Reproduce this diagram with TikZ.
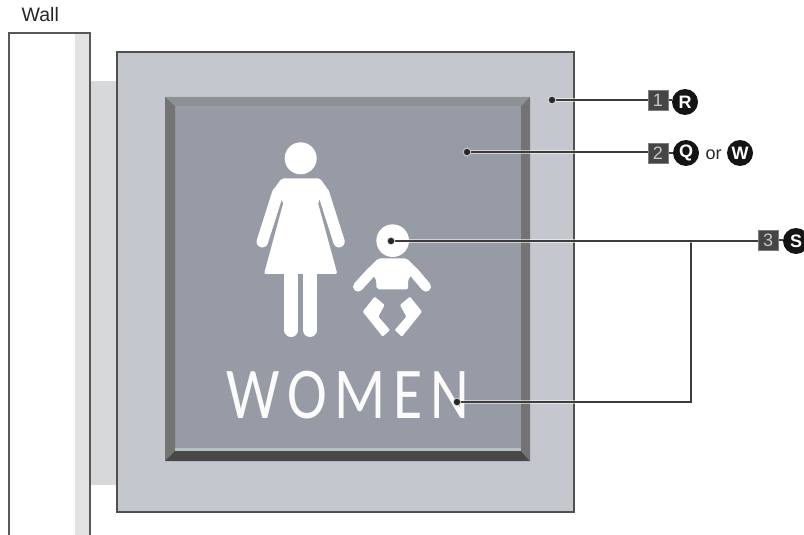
\documentclass[tikz,border=0pt]{standalone}
\usepackage{fontspec}
\setmainfont{Liberation Sans}
\newfontfamily\signfont[LetterSpace=13]{Carlito}
\definecolor{panelc}{HTML}{C4C8CE}
\definecolor{standc}{HTML}{D6D8D9}
\definecolor{facec}{HTML}{969BA5}
\definecolor{topc}{HTML}{8C9294}
\definecolor{linec}{HTML}{3C3C3C}
\definecolor{boxc}{HTML}{454545}
\pgfdeclarelayer{scene}
\pgfdeclarelayer{leaders}
\pgfsetlayers{scene,leaders,main}
\tikzset{
  x=1pt,y=-1pt,
  wallline/.style={draw=linec!85!white,line width=1.2pt},
  leader/.style={draw=linec,line width=1.1pt,preaction={draw=white,line width=3.2pt,opacity=.55}},
  anchordot/.style={circle,fill=black!85,draw=white,draw opacity=.6,line width=1pt,inner sep=0pt,minimum size=7.5pt},
  numbox/.style={fill=boxc,draw=boxc!70!white,line width=.5pt,minimum size=20pt,inner sep=0pt,text=black!22,font=\fontsize{18}{18}\selectfont},
  keydisc/.style={circle,fill=black!92,text=white,minimum size=26pt,inner sep=0pt,font=\fontsize{18}{18}\selectfont\bfseries},
  plain/.style={inner sep=0pt,font=\fontsize{18}{18}\selectfont,text=black!85},
  figure/.style={fill=white,draw=none},
  limb/.style={draw=white,line cap=round,line join=round},
}
\begin{document}
\begin{tikzpicture}
\useasboundingbox (0,0) rectangle (804,535);
\begin{pgfonlayer}{scene}
% wall
\fill[white] (9,33) rectangle (90,535);
\fill[black!11] (75,34) rectangle (90,535);
\draw[wallline] (9,535) -- (9,33) -- (90,33) -- (90,535);
% standoff
\fill[standc] (91,81) rectangle (117,485);
% panel
\draw[fill=panelc,draw=linec!90!white,line width=1.1pt] (117,52) rectangle (574,512);
% sign bevels
\fill[facec] (165,97) rectangle (530,461);
\fill[topc] (165,97) -- (175,106) -- (521,106) -- (530,97) -- cycle;
\fill[black!55] (165,97) -- (175,106) -- (175,451) -- (165,461) -- cycle;
\fill[black!72] (165,461) -- (175,451) -- (521,451) -- (530,461) -- cycle;
\fill[black!55] (530,97) -- (521,106) -- (521,451) -- (530,461) -- cycle;
\fill[facec!80!green!30!white,opacity=.5] (175,448) rectangle (521,451);
% woman
\begin{scope}[shift={(250,130)},scale=1/3]
\fill[figure] (152,85) circle (48);
\draw[limb,line width=11.5pt] (83,190) -- (37,335);
\draw[limb,line width=11.5pt] (221,190) -- (267,335);
\fill[figure,rounded corners=2pt] (95,145) -- (210,145) -- (238,185) -- (203,215) -- (262,432) -- (42,432) -- (101,215) -- (66,185) -- cycle;
\draw[limb,line width=14pt] (124,425) -- (124,600);
\draw[limb,line width=14pt] (180,425) -- (180,600);
% baby
\fill[figure] (428,332) circle (49);
\fill[figure,rounded corners=2pt] (385,385) -- (470,385) -- (505,420) -- (475,445) -- (474,478) -- (380,478) -- (378,445) -- (350,420) -- cycle;
\draw[limb,line width=10pt] (365,425) -- (324,470);
\draw[limb,line width=10pt] (490,425) -- (528,470);
\fill[figure,rounded corners=1pt] (374,500) -- (338,545) -- (398,620) -- (420,600) -- (385,560) -- (404,525) -- cycle;
\fill[figure,rounded corners=1pt] (480,500) -- (516,545) -- (456,620) -- (434,600) -- (469,560) -- (450,525) -- cycle;
\end{scope}
% lettering
\node[anchor=base,inner sep=0pt,xscale=.82,text=white!96!facec,font=\fontsize{73}{73}\signfont] (women) at (348,418) {WOMEN};
\end{pgfonlayer}
% wall label
\node[plain,anchor=base west,font=\fontsize{19.5}{20}\selectfont] (wall) at (21.5,22) {Wall};
% callouts
\node[anchordot] (d1) at (552,100) {};
\node[anchordot] (d2) at (467,152) {};
\node[anchordot] (d3) at (391,241) {};
\node[anchordot] (d4) at (457,402) {};
\coordinate (jn) at (691,241);
\node[numbox] (b1) at (658,100) {1};
\node[numbox] (b2) at (658,153) {2};
\node[numbox] (b3) at (768,240) {3};
\node[keydisc] (kr) at (685,102) {R};
\node[keydisc] (kq) at (686,153) {Q};
\node[plain,anchor=base] (orw) at (713.5,159) {or};
\node[keydisc] (kw) at (740,153) {W};
\node[keydisc] (ks) at (796,241) {S};
\begin{pgfonlayer}{leaders}
\draw[leader] (d4) -| (jn);
\draw[leader] (d1) -- (b1);
\draw[leader] (d2) -- (d2 -| b2.west);
\draw[leader] (d3) -- (d3 -| b3.west);
\draw[leader] (b1.east) -- (kr.west |- b1.east);
\draw[leader] (b2) -- (kq);
\draw[leader] (b3.east) -- (ks.west |- b3.east);
\end{pgfonlayer}
\end{tikzpicture}
\end{document}
